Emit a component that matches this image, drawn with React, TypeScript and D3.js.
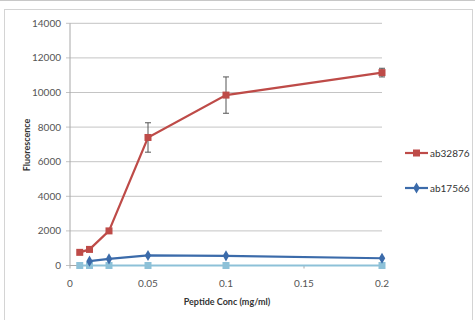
import React from 'react';
import * as d3 from 'd3';

const conc = [0.00625, 0.0125, 0.025, 0.05, 0.1, 0.2];
const ab32876 = [760, 930, 2000, 7400, 9850, 11150];
const ab32876Err = [0, 0, 0, 850, 1050, 250];
const ab17566Conc = [0.0125, 0.025, 0.05, 0.1, 0.2];
const ab17566 = [250, 380, 580, 560, 420];
const blank = [0, 0, 0, 0, 0, 0];
const xTicks = [0, 0.05, 0.1, 0.15, 0.2];
const yTicks = [0, 2000, 4000, 6000, 8000, 10000, 12000, 14000];

const RED = '#BE4B48';
const BLUE = '#3B6BAA';
const LIGHT = '#8DC1D8';
const FONT = 'Lato, "Open Sans", sans-serif';

export default function App() {
  const width = 475, height = 320;
  const x = d3.scaleLinear().domain([0, 0.2]).range([70, 382]);
  const y = d3.scaleLinear().domain([0, 14000]).range([265.5, 23.3]);

  const line = d3.line<[number, number]>()
    .x(d => x(d[0]))
    .y(d => y(d[1]));

  const redPts: [number, number][] = conc.map((c, i) => [c, ab32876[i]]);
  const bluePts: [number, number][] = ab17566Conc.map((c, i) => [c, ab17566[i]]);
  const lightPts: [number, number][] = conc.map((c, i) => [c, blank[i]]);

  return (
    <svg width={width} height={height} style={{ position: 'absolute', left: 0, top: 0, background: '#fff' }}>
      {/* frame */}
      <line x1={0} x2={width} y1={0.5} y2={0.5} stroke="#C8C8C8" />
      <rect x={4.5} y={9.5} width={468} height={320} fill="none" stroke="#D4D4D4" />

      {/* gridlines + y ticks */}
      {yTicks.map(t => (
        <g key={t}>
          <line x1={66} x2={382} y1={y(t)} y2={y(t)} stroke="#C4C4C4" strokeWidth={1} />
          <text x={61} y={y(t) + 3.5} textAnchor="end" fontSize={10} fill="#555" fontFamily={FONT}>{t}</text>
        </g>
      ))}
      <line x1={70} x2={70} y1={y(14000)} y2={y(0)} stroke="#A8A8A8" />
      <line x1={70} x2={382} y1={y(0)} y2={y(0)} stroke="#A8A8A8" />

      {/* x ticks */}
      {xTicks.map(t => (
        <g key={t}>
          <line x1={x(t)} x2={x(t)} y1={y(0)} y2={y(0) + 3} stroke="#A8A8A8" />
          <text x={x(t)} y={287} textAnchor="middle" fontSize={10} fill="#555" fontFamily={FONT}>{t}</text>
        </g>
      ))}

      {/* axis titles */}
      <text x={227} y={305} textAnchor="middle" fontSize={9} fontWeight="bold" fill="#333" fontFamily={FONT}>Peptide Conc (mg/ml)</text>
      <text transform={`translate(30,145) rotate(-90)`} textAnchor="middle" fontSize={9} fontWeight="bold" fill="#333" fontFamily={FONT}>Fluorescence</text>

      {/* light blue series */}
      <path d={line(lightPts) || ''} fill="none" stroke={LIGHT} strokeWidth={2.2} />
      {lightPts.map((p, i) => (
        <rect key={i} x={x(p[0]) - 3.5} y={y(p[1]) - 3.5} width={7} height={7} fill={LIGHT} />
      ))}

      {/* blue series */}
      <path d={line(bluePts) || ''} fill="none" stroke={BLUE} strokeWidth={2.2} />
      {bluePts.map((p, i) => (
        <path key={i} d={d3.symbol(d3.symbolDiamond, 36)() || ''} transform={`translate(${x(p[0])},${y(p[1])})`} fill={BLUE} />
      ))}

      {/* red series with error bars */}
      <path d={line(redPts) || ''} fill="none" stroke={RED} strokeWidth={2.2} />
      {redPts.map((p, i) => ab32876Err[i] > 0 && (
        <g key={i} stroke="#555" strokeWidth={1}>
          <line x1={x(p[0])} x2={x(p[0])} y1={y(p[1] + ab32876Err[i])} y2={y(p[1] - ab32876Err[i])} />
          <line x1={x(p[0]) - 3} x2={x(p[0]) + 3} y1={y(p[1] + ab32876Err[i])} y2={y(p[1] + ab32876Err[i])} />
          <line x1={x(p[0]) - 3} x2={x(p[0]) + 3} y1={y(p[1] - ab32876Err[i])} y2={y(p[1] - ab32876Err[i])} />
        </g>
      ))}
      {redPts.map((p, i) => (
        <rect key={i} x={x(p[0]) - 3.5} y={y(p[1]) - 3.5} width={7} height={7} fill={RED} />
      ))}

      {/* legend */}
      <g>
        <line x1={405} x2={428} y1={153} y2={153} stroke={RED} strokeWidth={2.2} />
        <rect x={413} y={149.5} width={7} height={7} fill={RED} />
        <text x={430} y={156.5} fontSize={10} fill="#333" fontFamily={FONT}>ab32876</text>
        <line x1={405} x2={428} y1={188} y2={188} stroke={BLUE} strokeWidth={2.2} />
        <path d={d3.symbol(d3.symbolDiamond, 36)() || ''} transform="translate(416.5,188)" fill={BLUE} />
        <text x={430} y={191.5} fontSize={10} fill="#333" fontFamily={FONT}>ab17566</text>
      </g>
    </svg>
  );
}
